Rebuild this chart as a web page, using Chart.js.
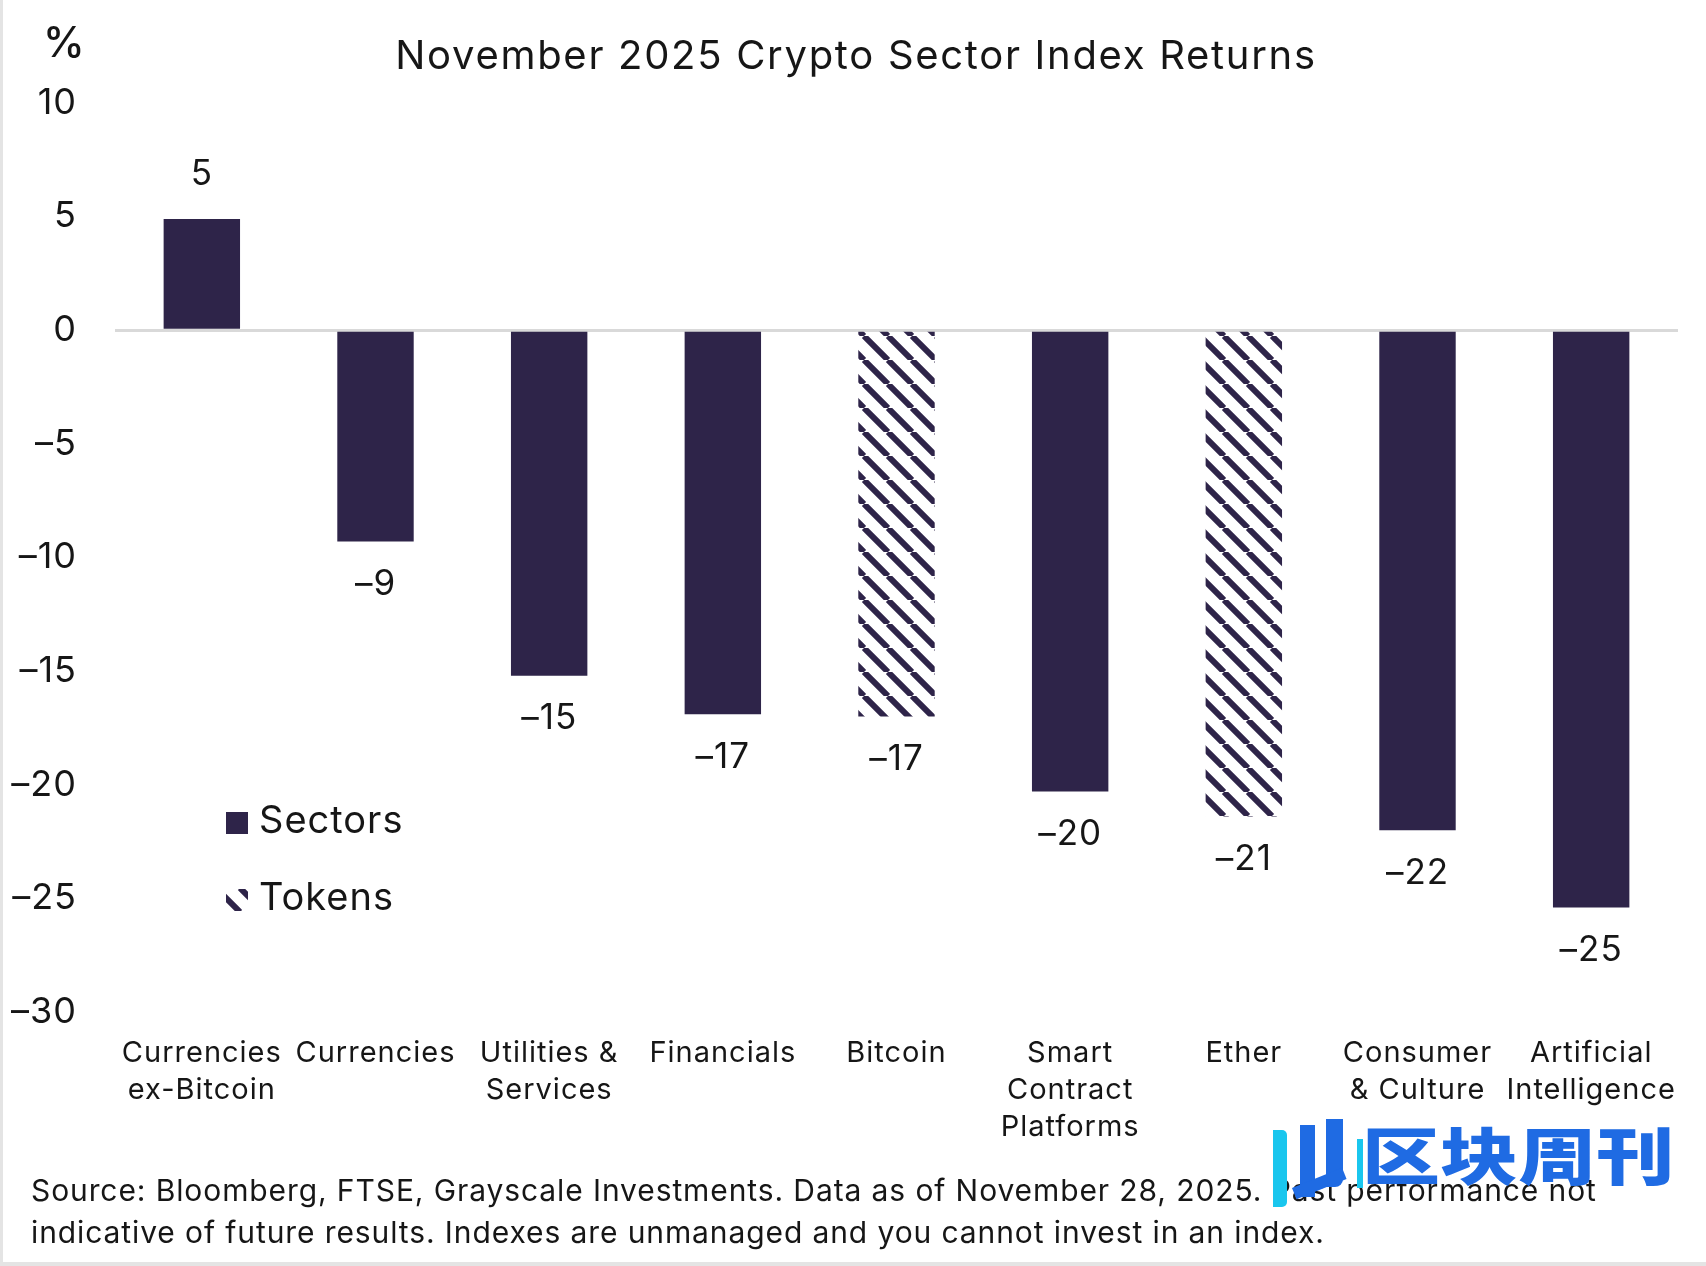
<!DOCTYPE html>
<html>
<head>
<meta charset="utf-8">
<script src="https://cdn.jsdelivr.net/npm/chart.js@4.4.1/dist/chart.umd.min.js"></script>
<style>
  html, body { margin: 0; padding: 0; background: #fff; }
  #wrap { position: relative; width: 1706px; height: 1266px; overflow: hidden; font-family: Inter, "Noto Sans", sans-serif; color: #161616; }
  #c { position: absolute; left: 0; top: 0; }
  .abs { position: absolute; white-space: nowrap; }
  #title { left: 0; width: 1712px; top: 33px; text-align: center; font-size: 40px; line-height: 44px; letter-spacing: 1.7px; }
  #unit { left: 43px; top: 20px; font-size: 42px; line-height: 44px; font-weight: 500; }
  #source { left: 31px; top: 1169px; font-size: 30px; line-height: 42px; letter-spacing: 0.9px; }
  #edgeL { left: 0; top: 0; width: 3px; height: 1266px; background: #e4e4e4; }
  #edgeB { left: 0; top: 1262px; width: 1706px; height: 4px; background: #e4e4e4; }
  #wm { left: 1362px; top: 1113px; font-family: "Noto Sans CJK SC", sans-serif; font-weight: 900; font-size: 62px; line-height: 80px; color: #1f6be3; transform: scaleX(1.26); transform-origin: left top; }
  .logo { position: absolute; }
</style>
</head>
<body>
<div id="wrap">
  <canvas id="c" width="1706" height="1266"></canvas>
  <div id="edgeL" class="abs"></div>
  <div id="edgeB" class="abs"></div>
  <div id="unit" class="abs">%</div>
  <div id="title" class="abs">November 2025 Crypto Sector Index Returns</div>
  <div id="source" class="abs">Source: Bloomberg, FTSE, Grayscale Investments. Data as of November 28, 2025. Past performance not<br>indicative of future results. Indexes are unmanaged and you cannot invest in an index.</div>
  <div class="logo" style="left:1273px;top:1130px;width:14px;height:77px;background:#19c6ee;border-radius:0 5px 5px 0;"></div>
  <div class="logo" style="left:1300px;top:1125px;width:15px;height:72px;background:#1f6be3;"></div>
  <div class="logo" style="left:1326px;top:1119px;width:17px;height:68px;background:#1f6be3;border-radius:0 0 8px 0;"></div>
  <div class="logo" style="left:1292px;top:1188px;width:54px;height:12px;background:#1f6be3;transform:rotate(-22deg);transform-origin:left top;"></div>
  <div class="logo" style="left:1357px;top:1139px;width:6px;height:49px;background:#19c6ee;"></div>
  <div id="wm" class="abs">区块周刊</div>
</div>
<script>
// categories and values (%)
const categories = [
  ['Currencies', 'ex-Bitcoin'],
  'Currencies',
  ['Utilities &', 'Services'],
  'Financials',
  'Bitcoin',
  ['Smart', 'Contract', 'Platforms'],
  'Ether',
  ['Consumer', '& Culture'],
  ['Artificial', 'Intelligence']
];
const sectorReturns = [4.9, -9.3, -15.2, -16.9, null, -20.3, null, -22.0, -25.4];
const tokenReturns = [null, null, null, null, -17.0, null, -21.4, null, null];
const yMin = -30, yMax = 10, yStep = 5;

const barColor = '#2e2449';
const textColor = '#161616';

function minusFmt(v) {
  return v < 0 ? '\u2013' + Math.abs(v) : String(v);
}

function makeHatch(color) {
  const s = 24;
  const c = document.createElement('canvas');
  c.width = s; c.height = s;
  const g = c.getContext('2d');
  g.strokeStyle = color;
  g.lineWidth = 6;
  g.beginPath();
  [-s, 0, s].forEach(x0 => { g.moveTo(x0, 0); g.lineTo(x0 + s, s); });
  g.stroke();
  return g.createPattern(c, 'repeat');
}
const hatch = makeHatch(barColor);

// the source font is wider than Inter, so space the canvas text a little
const spacing = {
  id: 'spacing',
  beforeInit(chart) { chart.ctx.letterSpacing = '1px'; },
  beforeUpdate(chart) { chart.ctx.letterSpacing = '1px'; },
  beforeDraw(chart) { chart.ctx.letterSpacing = '1px'; }
};

// value labels above / below each bar
const valueLabels = {
  id: 'valueLabels',
  afterDatasetsDraw(chart) {
    const ctx = chart.ctx;
    ctx.save();
    ctx.font = '35px Inter';
    ctx.fillStyle = textColor;
    ctx.textAlign = 'center';
    ctx.textBaseline = 'middle';
    chart.data.datasets.forEach((ds, di) => {
      chart.getDatasetMeta(di).data.forEach((bar, i) => {
        const v = ds.data[i];
        if (v == null) return;
        ctx.fillText(minusFmt(Math.round(v)), bar.x, v >= 0 ? bar.y - 44 : bar.y + 43);
      });
    });
    ctx.restore();
  }
};

// legend drawn inside the plot area
const innerLegend = {
  id: 'innerLegend',
  afterDraw(chart) {
    const ctx = chart.ctx;
    const x = chart.chartArea.left + 111;
    const rows = [812, 889];
    ctx.save();
    ctx.font = '38px Inter';
    ctx.textBaseline = 'middle';
    chart.data.datasets.forEach((ds, i) => {
      const y = rows[i];
      ctx.fillStyle = ds.backgroundColor;
      ctx.fillRect(x, y, 22, 22);
      ctx.fillStyle = textColor;
      ctx.fillText(ds.label, x + 33, y + 10);
    });
    ctx.restore();
  }
};

new Chart(document.getElementById('c'), {
  type: 'bar',
  data: {
    labels: categories,
    datasets: [
      { label: 'Sectors', data: sectorReturns, backgroundColor: barColor },
      { label: 'Tokens', data: tokenReturns, backgroundColor: hatch }
    ]
  },
  options: {
    responsive: false,
    animation: false,
    devicePixelRatio: 1,
    events: [],
    layout: { padding: { top: 103, right: 28, left: 0, bottom: 0 } },
    datasets: { bar: { grouped: false, barPercentage: 0.44, categoryPercentage: 1.0 } },
    plugins: { legend: { display: false }, tooltip: { enabled: false }, title: { display: false } },
    scales: {
      x: {
        afterFit: s => { s.height = 254; },
        grid: { display: false, drawTicks: false },
        border: { display: false },
        ticks: {
          autoSkip: false, maxRotation: 0, minRotation: 0, padding: 23,
          color: textColor, font: { family: 'Inter', size: 29, lineHeight: 1.27 }
        }
      },
      y: {
        min: yMin, max: yMax,
        afterFit: s => { s.width = 115; },
        border: { display: false },
        grid: {
          drawTicks: false,
          color: c => c.tick && c.tick.value === 0 ? '#d9d9d9' : 'rgba(0,0,0,0)',
          lineWidth: 3
        },
        ticks: {
          stepSize: yStep, padding: 38, color: textColor,
          font: { family: 'Inter', size: 36 },
          callback: v => minusFmt(v)
        }
      }
    }
  },
  plugins: [spacing, valueLabels, innerLegend]
});
</script>
</body>
</html>
